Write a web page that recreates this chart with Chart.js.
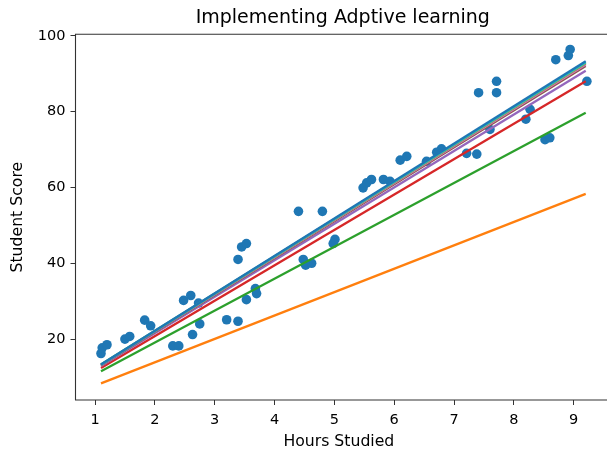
<!DOCTYPE html>
<html>
<head>
<meta charset="utf-8">
<script src="https://cdn.jsdelivr.net/npm/chart.js@4/dist/chart.umd.min.js"></script>
<style>
  html, body { margin: 0; padding: 0; background: #fff; overflow: hidden; }
</style>
</head>
<body>
<canvas id="c" width="607" height="453" style="display:block;width:607px;height:453px"></canvas>
<script>
// ---- data ----
const hours = [1.10, 1.12, 1.20, 1.50, 1.58, 1.83, 1.93, 2.30, 2.40, 2.48,
               2.60, 2.73, 2.63, 2.75, 3.20, 3.39, 3.53, 3.68, 3.70, 3.39,
               3.45, 3.53, 4.40, 4.80, 4.48, 4.52, 4.62, 5.01, 4.98, 5.48,
               5.54, 5.62, 5.82, 5.93, 6.10, 6.21, 6.54, 6.71, 6.79, 7.21,
               7.38, 7.41, 7.60, 7.71, 7.71, 8.20, 8.27, 8.52, 8.60, 8.70,
               8.91, 8.94, 9.22];
const scores = [16.2, 17.7, 18.5, 20.0, 20.7, 25.0, 23.5, 18.2, 18.2, 30.2,
                31.5, 29.5, 21.2, 24.0, 25.1, 24.7, 30.4, 33.3, 32.0, 41.0,
                44.3, 45.2, 53.7, 53.7, 41.0, 39.5, 40.0, 46.3, 45.2, 59.9,
                61.2, 62.1, 62.1, 61.6, 67.2, 68.2, 66.9, 69.3, 70.2, 69.0,
                68.8, 85.0, 75.3, 85.0, 88.0, 78.0, 80.6, 72.6, 73.1, 93.7,
                94.8, 96.4, 88.0];

// fitted lines (one per learning iteration): value at first and last hour
const lineX = [1.1, 9.2];
const lineStart = [8.3, 11.5, 12.4, 12.9, 13.1, 13.2, 13.2, 13.3, 13.3, 13.3];
const lineEnd   = [58.3, 79.7, 88.0, 90.8, 92.0, 92.4, 92.7, 92.9, 93.0, 93.3];
const lineColors = ['#ff7f0e', '#2ca02c', '#d62728', '#9467bd', '#8c564b',
                    '#e377c2', '#7f7f7f', '#bcbd22', '#17becf', '#1f77b4'];

const xTicks = [1, 2, 3, 4, 5, 6, 7, 8, 9];
const yTicks = [20, 40, 60, 80, 100];
const titleText = 'Implementing Adptive learning';

// axis view limits (the right part of the plot frame lies past the picture edge)
const xView = [0.674, 9.606];
const yView = [3.93, 100.4];

// ---- chart ----
const font = 'DejaVu Sans';
const datasets = [{
  type: 'scatter',
  data: hours.map((h, i) => ({ x: h, y: scores[i] })),
  backgroundColor: '#1f77b4',
  borderWidth: 0,
  pointRadius: 4.8,
  pointHoverRadius: 4.8,
  order: 100
}];
lineStart.forEach((s, i) => {
  datasets.push({
    type: 'scatter',
    showLine: true,
    data: [{ x: lineX[0], y: s }, { x: lineX[1], y: lineEnd[i] }],
    borderColor: lineColors[i],
    backgroundColor: lineColors[i],
    borderWidth: 2.3,
    pointRadius: 0,
    order: lineStart.length - i
  });
});

const frame = {
  id: 'frame',
  afterDraw(chart) {
    const { ctx, chartArea: a } = chart;
    ctx.save();
    ctx.strokeStyle = '#333';
    ctx.lineWidth = 1.1;
    ctx.beginPath();
    ctx.moveTo(chart.width + 2, a.top);
    ctx.lineTo(a.left, a.top);
    ctx.lineTo(a.left, a.bottom);
    ctx.lineTo(chart.width + 2, a.bottom);
    ctx.stroke();
    // axes title, centred over the full plot frame
    const xs = chart.scales.x;
    const frameRight = xs.getPixelForValue(xView[1]);
    ctx.fillStyle = '#000';
    ctx.font = '19px "' + font + '"';
    ctx.textAlign = 'center';
    ctx.textBaseline = 'middle';
    ctx.fillText(titleText, (a.left + frameRight) / 2, 18);
    ctx.restore();
  }
};

const chart = new Chart(document.getElementById('c'), {
  type: 'scatter',
  data: { datasets },
  plugins: [frame],
  options: {
    responsive: false,
    animation: false,
    devicePixelRatio: 1,
    layout: { padding: { left: 0, right: 0, top: 34.3, bottom: 0 } },
    plugins: {
      legend: { display: false },
      tooltip: { enabled: false },
      title: { display: false }
    },
    scales: {
      x: {
        type: 'linear',
        min: xView[0], max: xView[1],
        afterBuildTicks: s => { s.ticks = xTicks.map(v => ({ value: v })); },
        afterFit: s => { s.height = 53; s.paddingLeft = 0; s.paddingRight = 0; },
        grid: { drawOnChartArea: false, drawTicks: true, tickLength: 5, tickColor: '#333', tickWidth: 1 },
        border: { display: false },
        ticks: { color: '#000', font: { family: font, size: 14.5 }, padding: 7, maxRotation: 0 },
        title: { display: true, text: 'Hours Studied', color: '#000',
                 font: { family: font, size: 15.7 }, padding: { top: 0, bottom: 1.2 } }
      },
      y: {
        type: 'linear',
        min: yView[0], max: yView[1],
        afterBuildTicks: s => { s.ticks = yTicks.map(v => ({ value: v })); },
        afterFit: s => { s.width = 75.5; s.paddingTop = 0; s.paddingBottom = 0; },
        grid: { drawOnChartArea: false, drawTicks: true, tickLength: 5, tickColor: '#333', tickWidth: 1 },
        border: { display: false },
        ticks: { color: '#000', font: { family: font, size: 14.5 }, padding: 5 },
        title: { display: true, text: 'Student Score', color: '#000',
                 font: { family: font, size: 15.7 }, padding: { top: 8.6, bottom: 0 } }
      }
    }
  }
});

// The visible plot area ends at the canvas edge; keep the full view's scale by
// trimming the x maximum to what fits inside the canvas.
const a = chart.chartArea;
const frameWidth = 610 - a.left;                 // width of the full plot frame
const unitsPerPx = (xView[1] - xView[0]) / frameWidth;
chart.options.scales.x.max = xView[0] + (a.right - a.left) * unitsPerPx;
chart.update();
</script>
</body>
</html>
